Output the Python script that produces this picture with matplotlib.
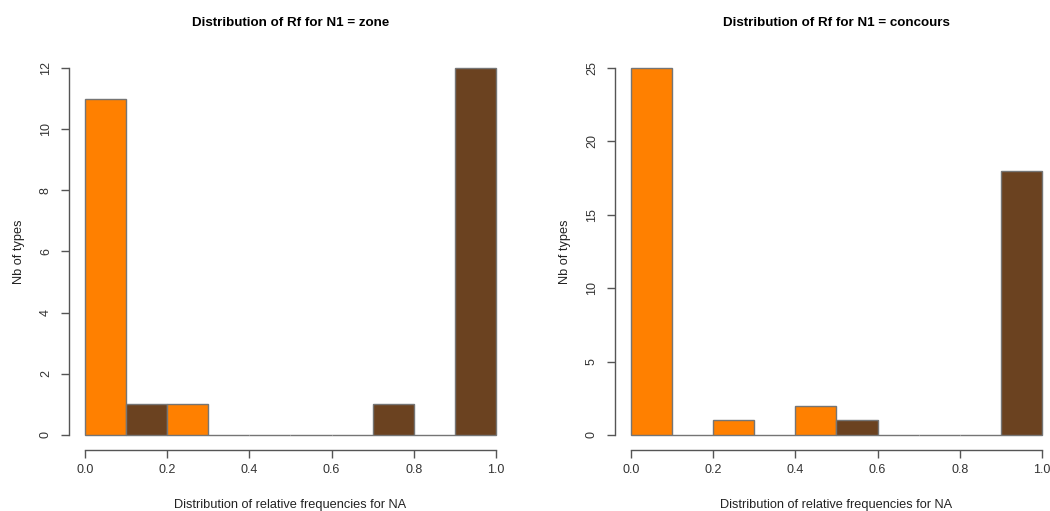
import numpy as np
import matplotlib
matplotlib.use("Agg")
from matplotlib import pyplot as plt

plt.rcParams['font.family'] = ['Liberation Sans', 'DejaVu Sans']

# histogram bins (relative frequency of NA)
bin_edges = [0.0, 0.1, 0.2, 0.3, 0.4, 0.5, 0.6, 0.7, 0.8, 0.9, 1.0]
counts_zone = [11, 1, 1, 0, 0, 0, 0, 1, 0, 12]
counts_concours = [25, 0, 1, 0, 2, 1, 0, 0, 0, 18]
yticks_zone = [0, 2, 4, 6, 8, 10, 12]
yticks_concours = [0, 5, 10, 15, 20, 25]
xticks = [0.0, 0.2, 0.4, 0.6, 0.8, 1.0]
titles = ["Distribution of Rf for N1 = zone", "Distribution of Rf for N1 = concours"]

orange = "#FF8000"
brown = "#6B4220"
bar_cols = [orange if i % 2 == 0 else brown for i in range(len(bin_edges) - 1)]

fig = plt.figure(figsize=(10.5, 5.11), dpi=100)
ax_pos = [[0.0653, 0.12, 0.4227, 0.7757], [0.5853, 0.12, 0.4227, 0.7757]]

panels = [(counts_zone, yticks_zone), (counts_concours, yticks_concours)]
for k, (counts, yt) in enumerate(panels):
    ax = fig.add_axes(ax_pos[k])
    left = np.array(bin_edges[:-1])
    width = np.diff(bin_edges)
    ax.bar(left, counts, width=width, align='edge', color=bar_cols,
           edgecolor="#757575", linewidth=1.0)
    ymax = yt[-1]
    ax.set_xlim(-0.04, 1.04)
    ax.set_ylim(-0.04 * ymax, ymax * 1.04)
    for s in ['top', 'right']:
        ax.spines[s].set_visible(False)
    ax.spines['left'].set_bounds(0, ymax)
    ax.spines['bottom'].set_bounds(0, 1)
    for s in ['left', 'bottom']:
        ax.spines[s].set_color("#555555")
        ax.spines[s].set_linewidth(1.0)
    ax.set_xticks(xticks)
    ax.set_xticklabels([f"{v:.1f}" for v in xticks])
    ax.set_yticks(yt)
    ax.set_yticklabels([str(v) for v in yt], rotation=90, va='center')
    ax.tick_params(axis='both', direction='out', length=6, width=1.0,
                   color="#555555", labelcolor="#333333", labelsize=9)
    ax.tick_params(axis='x', pad=4)
    ax.tick_params(axis='y', pad=6)
    ax.set_xlabel("Distribution of relative frequencies for NA", fontsize=9.2,
                  color="#222222", labelpad=17)
    ax.set_ylabel("Nb of types", fontsize=9.2, color="#222222", labelpad=11)
    ax.set_title(titles[k], fontsize=9.6, fontweight='bold', pad=20)

plt.savefig("out.png", dpi=100)
